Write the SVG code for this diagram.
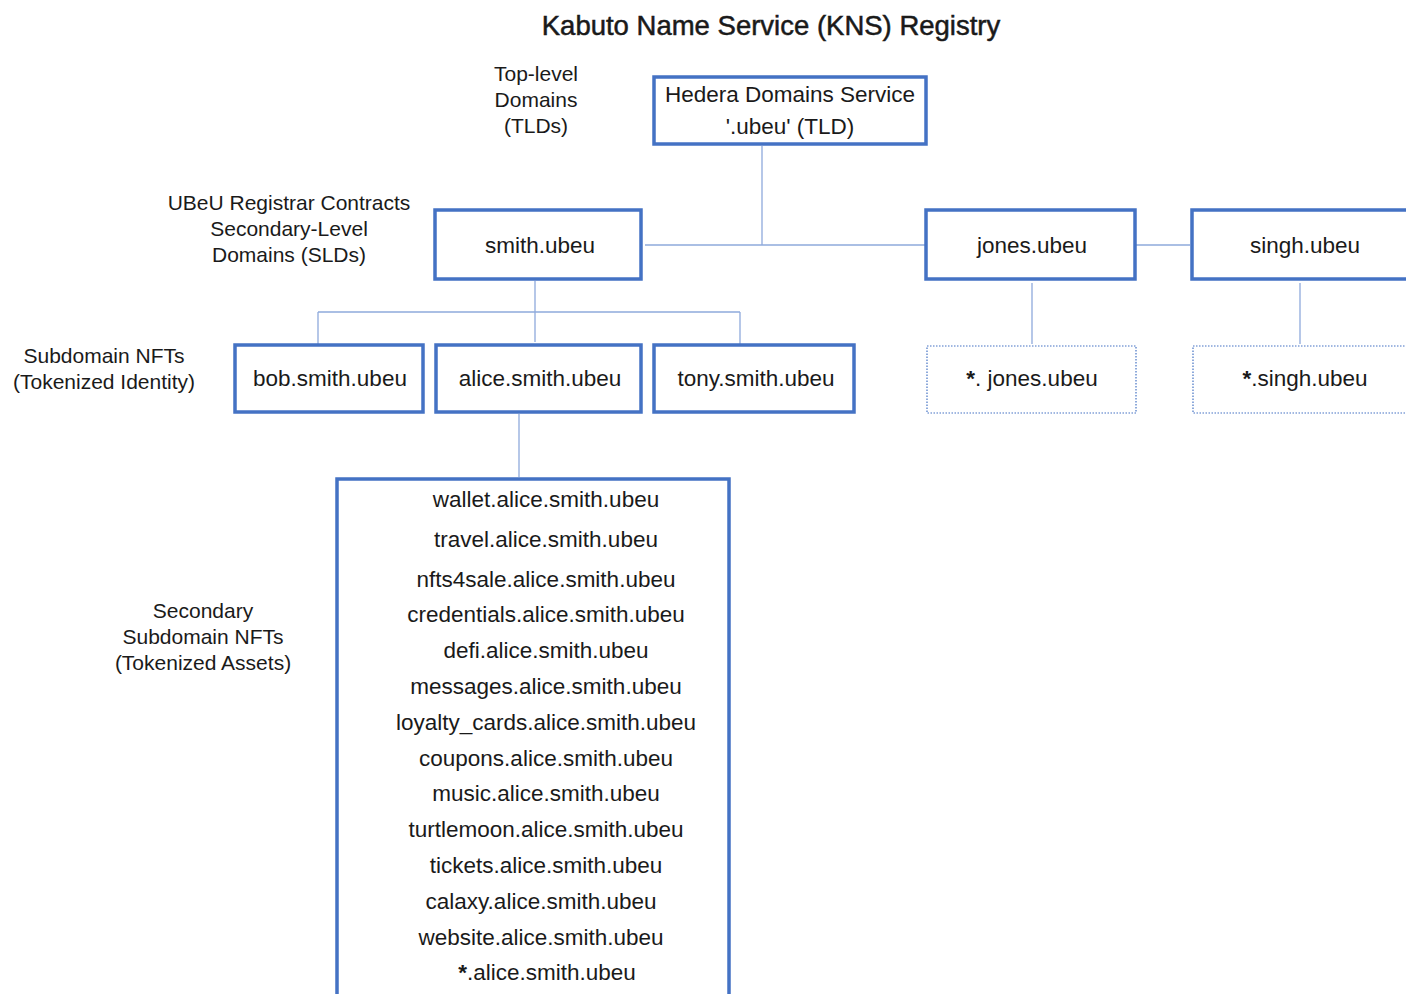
<svg xmlns="http://www.w3.org/2000/svg" width="1406" height="994" viewBox="0 0 1406 994">
<style>
text{font-family:"Liberation Sans",Arial,sans-serif;fill:#1a1a1a}
.t{font-size:27.5px;stroke:#1a1a1a;stroke-width:0.5}
.lbl{font-size:21px;text-anchor:middle}
.n{font-size:22.5px;text-anchor:middle}
.b{font-weight:bold}
.box{fill:#fff;stroke:#4472C4;stroke-width:3.5}
.dot{fill:#fff;stroke:#4472C4;stroke-width:1.2;stroke-dasharray:1.5 1.5}
.c{stroke:#8FAADC;stroke-width:1.3;fill:none}
</style>
<rect width="1406" height="994" fill="#fff"/>
<text class="t" x="771" y="35" text-anchor="middle">Kabuto Name Service (KNS) Registry</text>
<g id="labels">
<text class="lbl" x="536" y="81">Top-level</text>
<text class="lbl" x="536" y="107">Domains</text>
<text class="lbl" x="536" y="133">(TLDs)</text>
<text class="lbl" x="289" y="210">UBeU Registrar Contracts</text>
<text class="lbl" x="289" y="236">Secondary-Level</text>
<text class="lbl" x="289" y="262">Domains (SLDs)</text>
<text class="lbl" x="104" y="363">Subdomain NFTs</text>
<text class="lbl" x="104" y="389">(Tokenized Identity)</text>
<text class="lbl" x="203" y="618">Secondary</text>
<text class="lbl" x="203" y="644">Subdomain NFTs</text>
<text class="lbl" x="203" y="670">(Tokenized Assets)</text>
</g>
<g id="connectors">
<path class="c" d="M762 146V245M645 245H925M1136 245H1190"/>
<path class="c" d="M535 281V342M318 312H740M318 312V344M740 312V344"/>
<path class="c" d="M1032 283V344M1300 283V344"/>
<path class="c" d="M519 414V477"/>
</g>
<g id="tld"><rect class="box" x="654" y="77" width="272" height="67"/>
<text class="n" x="790" y="102">Hedera Domains Service</text>
<text class="n" x="790" y="134">'.ubeu' (TLD)</text></g>
<g id="smith"><rect class="box" x="435" y="210" width="206" height="69"/><text class="n" x="540" y="253">smith.ubeu</text></g>
<g id="jones"><rect class="box" x="926" y="210" width="209" height="69"/><text class="n" x="1032" y="253">jones.ubeu</text></g>
<g id="singh"><rect class="box" x="1192" y="210" width="230" height="69"/><text class="n" x="1305" y="253">singh.ubeu</text></g>
<g id="bob"><rect class="box" x="235" y="345" width="188" height="67"/><text class="n" x="330" y="386">bob.smith.ubeu</text></g>
<g id="alice"><rect class="box" x="436" y="345" width="205" height="67"/><text class="n" x="540" y="386">alice.smith.ubeu</text></g>
<g id="tony"><rect class="box" x="654" y="345" width="200" height="67"/><text class="n" x="756" y="386">tony.smith.ubeu</text></g>
<g id="jones-wild"><rect class="dot" x="927" y="346" width="209" height="67"/><text class="n" x="1032" y="386"><tspan class="b">*</tspan>. jones.ubeu</text></g>
<g id="singh-wild"><rect class="dot" x="1193" y="346" width="230" height="67"/><text class="n" x="1305" y="386"><tspan class="b">*</tspan>.singh.ubeu</text></g>
<g id="alice-subs"><rect class="box" x="337" y="479" width="392" height="530"/>
<text class="n" x="546" y="507">wallet.alice.smith.ubeu</text>
<text class="n" x="546" y="547">travel.alice.smith.ubeu</text>
<text class="n" x="546" y="587">nfts4sale.alice.smith.ubeu</text>
<text class="n" x="546" y="622">credentials.alice.smith.ubeu</text>
<text class="n" x="546" y="658">defi.alice.smith.ubeu</text>
<text class="n" x="546" y="694">messages.alice.smith.ubeu</text>
<text class="n" x="546" y="730">loyalty_cards.alice.smith.ubeu</text>
<text class="n" x="546" y="766">coupons.alice.smith.ubeu</text>
<text class="n" x="546" y="801">music.alice.smith.ubeu</text>
<text class="n" x="546" y="837">turtlemoon.alice.smith.ubeu</text>
<text class="n" x="546" y="873">tickets.alice.smith.ubeu</text>
<text class="n" x="541" y="909">calaxy.alice.smith.ubeu</text>
<text class="n" x="541" y="945">website.alice.smith.ubeu</text>
<text class="n" x="547" y="980"><tspan class="b">*</tspan>.alice.smith.ubeu</text>
</g>
</svg>
